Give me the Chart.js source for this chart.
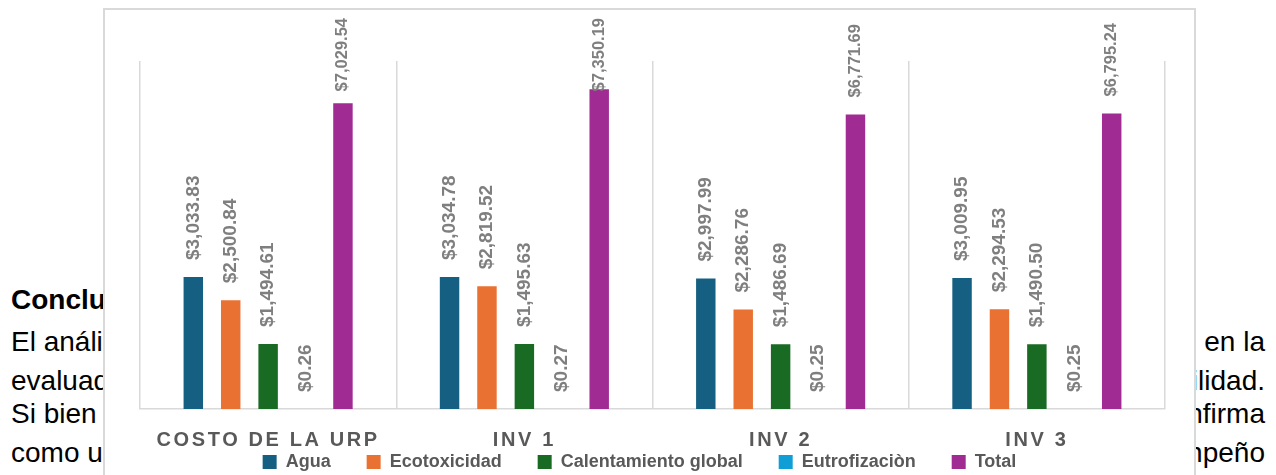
<!DOCTYPE html>
<html lang="es">
<head>
<meta charset="utf-8">
<title>Costos por categoría de impacto</title>
<script src="https://cdn.jsdelivr.net/npm/chart.js@4.4.1/dist/chart.umd.min.js"></script>
<style>
  html, body { margin: 0; padding: 0; background: #fff; overflow: hidden; }
  body { width: 1276px; height: 475px; position: relative; font-family: "Liberation Sans", Arial, sans-serif; font-size: 28px; color: #000; }
  .linea { position: absolute; white-space: nowrap; line-height: 1; }
  .izq { left: 11px; }
  .der { right: 11px; text-align: right; }
  #marco { position: absolute; left: 103px; top: 8px; width: 1089px; height: 480px; border: 2px solid #d9d9d9; background: #fff; }
  #grafico { display: block; }
</style>
</head>
<body>
<!-- texto del documento que queda detras del grafico -->
<div class="linea izq" style="top:286px;font-weight:bold">Conclusiones</div>
<div class="linea izq" style="top:328px">El análisis</div>
<div class="linea izq" style="top:367px">evaluados</div>
<div class="linea izq" style="top:400px">Si bien</div>
<div class="linea izq" style="top:439px">como un</div>
<div class="linea der" style="top:328px">en la</div>
<div class="linea der" style="top:367px">sostenibilidad.</div>
<div class="linea der" style="top:400px">confirma</div>
<div class="linea der" style="top:439px">desempeño</div>

<div id="marco"><canvas id="grafico" width="1089" height="480"></canvas></div>

<script>
// Datos
var categorias = ['COSTO DE LA URP', 'INV 1', 'INV 2', 'INV 3'];
var agua = [3033.83, 3034.78, 2997.99, 3009.95];
var ecotoxicidad = [2500.84, 2819.52, 2286.76, 2294.53];
var calentamiento = [1494.61, 1495.63, 1486.69, 1490.50];
var eutrofizacion = [0.26, 0.27, 0.25, 0.25];
var total = [7029.54, 7350.19, 6771.69, 6795.24];

var fuente = '"Liberation Sans", Arial, sans-serif';

function formato(v) {
    return '$' + v.toLocaleString('en-US', { minimumFractionDigits: 2, maximumFractionDigits: 2 });
}

// Etiquetas verticales encima de cada barra (sin salirse del marco)
var etiquetasValor = {
    id: 'etiquetasValor',
    afterDatasetsDraw: function (chart) {
        var ctx = chart.ctx;
        chart.data.datasets.forEach(function (ds, i) {
            var meta = chart.getDatasetMeta(i);
            var tam = ds.label === 'Total' ? 16.5 : 19;
            meta.data.forEach(function (bar, j) {
                var texto = formato(ds.data[j]);
                ctx.save();
                ctx.font = 'bold ' + tam + 'px ' + fuente;
                var largo = ctx.measureText(texto).width;
                var inicio = Math.max(bar.y - 17, 8 + largo);
                ctx.translate(bar.x, inicio);
                ctx.rotate(-Math.PI / 2);
                ctx.fillStyle = '#7f7f7f';
                ctx.textAlign = 'left';
                ctx.textBaseline = 'middle';
                ctx.fillText(texto, 0, 0);
                ctx.restore();
            });
        });
    }
};

// la leyenda de Excel queda un poco a la izquierda del centro
var moverLeyenda = {
    id: 'moverLeyenda',
    afterLayout: function (chart) {
        chart.legend.left -= 13;
        chart.legend.right -= 13;
    }
};

var ctx = document.getElementById('grafico').getContext('2d');
var chart = new Chart(ctx, {
    type: 'bar',
    data: {
        labels: categorias,
        datasets: [
            { label: 'Agua', data: agua, backgroundColor: '#156082' },
            { label: 'Ecotoxicidad', data: ecotoxicidad, backgroundColor: '#E97132' },
            { label: 'Calentamiento global', data: calentamiento, backgroundColor: '#196B24' },
            { label: 'Eutrofizaciòn', data: eutrofizacion, backgroundColor: '#0F9ED5' },
            { label: 'Total', data: total, backgroundColor: '#A02B93' }
        ]
    },
    options: {
        responsive: false,
        animation: false,
        categoryPercentage: 0.73,
        barPercentage: 0.52,
        layout: { padding: { left: 35, right: 29, top: 51, bottom: 9 } },
        scales: {
            x: {
                grid: { color: '#d9d9d9', lineWidth: 1.5, drawTicks: false, offset: true },
                border: { color: '#d9d9d9', width: 1.5 },
                ticks: {
                    color: '#595959',
                    padding: 19,
                    font: { family: fuente, size: 20, weight: 'bold' }
                },
                afterFit: function (scale) { scale.height = 8; }
            },
            y: { display: false, min: 0, max: 8000 }
        },
        plugins: {
            legend: {
                position: 'bottom',
                labels: {
                    boxWidth: 14,
                    boxHeight: 14,
                    padding: 36,
                    color: '#595959',
                    font: { family: fuente, size: 18, weight: 'bold' }
                }
            },
            tooltip: { enabled: false }
        }
    },
    plugins: [etiquetasValor, moverLeyenda]
});

// espaciado entre letras en las categorias del eje x
var ejeX = chart.scales.x;
var dibujarOriginal = ejeX.drawLabels.bind(ejeX);
ejeX.drawLabels = function (area) {
    var abajo = this.bottom;
    this.bottom = this.top + 60; // el recorte usa el alto del eje
    ctx.save();
    ctx.letterSpacing = '2.6px';
    dibujarOriginal(area);
    ctx.restore();
    this.bottom = abajo;
};
chart.draw();
</script>
</body>
</html>
